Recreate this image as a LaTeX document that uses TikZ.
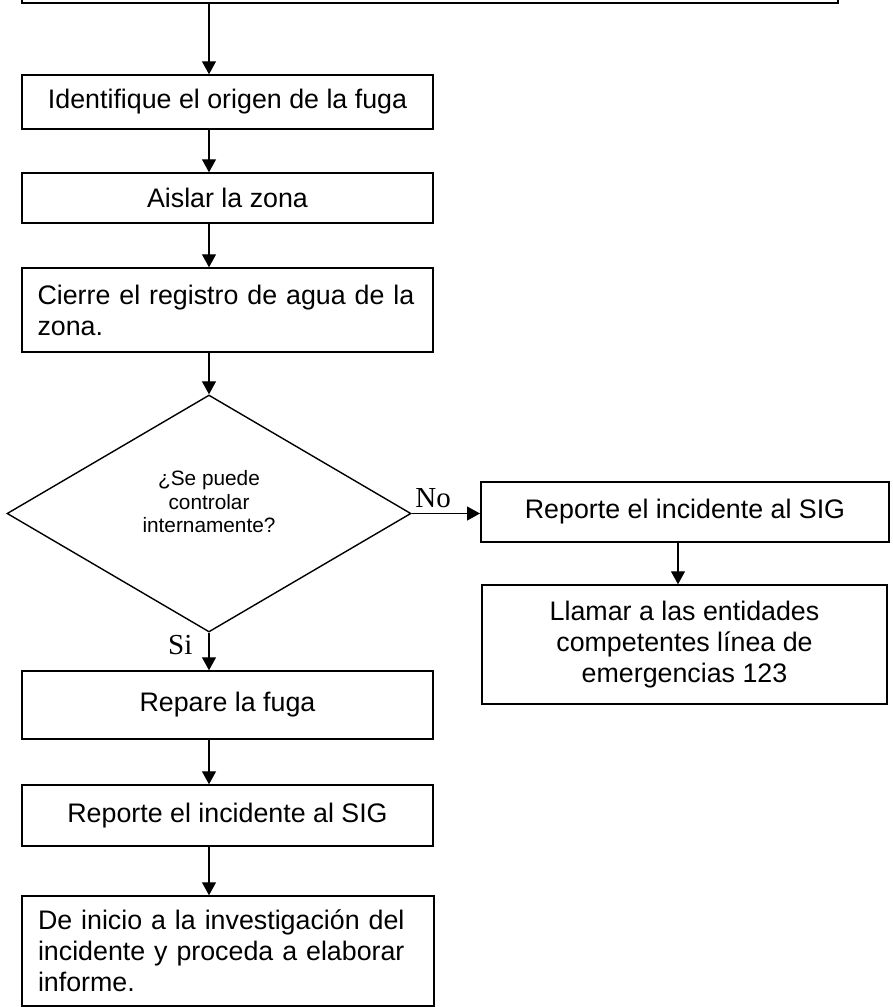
\documentclass[tikz,border=0pt]{standalone}
\usepackage{fontspec}
\setmainfont{Liberation Sans}
\newfontfamily\timesfont{Liberation Serif}
\usetikzlibrary{shapes.geometric,arrows.meta}
\tikzset{%
  block/.style     = {draw, line width=1.5pt, rectangle, inner sep=0pt,
    font=\fontsize{26.8}{31}\selectfont, align=center},
  leftblock/.style = {block, text width=380pt, align=left}, % texto a la izquierda
  decision/.style  = {draw, line width=1.4pt, diamond, inner sep=0pt, text depth=24pt,
    font=\fontsize{20.8}{23.5}\selectfont, align=center}, % Pregunta
  branch/.style    = {font=\timesfont\fontsize{29}{30}\selectfont, inner sep=0pt}, % Si / No
  flecha/.style    = {->, line width=1.3pt}
}
\begin{document}
\begin{tikzpicture}[x=1pt, y=-1pt, >={Triangle[length=13pt,width=14pt]}]
\useasboundingbox (0,0) rectangle (892,1007);
\coordinate (eje) at (209,0);
\coordinate (ejeR) at (678,0);
% columna izquierda
\node[block, line width=2.5pt, minimum width=816pt, minimum height=60pt] (Inicio) at (430,-27) {};
\node[block, minimum width=411pt, minimum height=54pt] (Origen) at (227.5,102) {Identifique el origen de la fuga};
\node[block, minimum width=411pt, minimum height=50pt] (Aislar) at (227.5,198) {Aislar la zona};
\node[leftblock, minimum width=411pt, minimum height=84pt] (Registro) at (227.5,310) {Cierre el registro de agua de la\\zona.};
\node[decision, minimum width=404pt, minimum height=237pt] (Control) at (209,513.5) {¿Se puede\\controlar\\internamente?};
\node[block, minimum width=411pt, minimum height=68pt] (Repare) at (227.5,705) {Repare la fuga};
\node[block, minimum width=411pt, minimum height=61pt] (Reporte2) at (227.5,815.5) {Reporte el incidente al SIG};
\node[leftblock, minimum width=412pt, minimum height=110pt] (Informe) at (228,951) {De inicio a la investigación del\\incidente y proceda a elaborar\\informe.};
% columna derecha
\node[block, line width=2pt, minimum width=408pt, minimum height=60pt] (Reporte1) at (685,512) {Reporte el incidente al SIG};
\node[block, minimum width=405pt, minimum height=119pt] (Llamar) at (684.5,644.5) {Llamar a las entidades\\competentes línea de\\emergencias 123};
% flechas
\draw[flecha] (Inicio.south -| eje) -- (Origen.north -| eje);
\draw[flecha] (Origen.south -| eje) -- (Aislar.north -| eje);
\draw[flecha] (Aislar.south -| eje) -- (Registro.north -| eje);
\draw[flecha] (Registro.south -| eje) -- (Control.north);
\draw[flecha] (Control.east) -- (Control.east -| Reporte1.west)
  node[branch, pos=0, anchor=south west, xshift=3pt, yshift=5pt] (No) {No};
\draw[flecha] (Control.south) -- (Repare.north -| Control.south)
  node[branch, pos=0.33, anchor=east, xshift=-16pt] (Si) {Si};
\draw[flecha] (Repare.south -| eje) -- (Reporte2.north -| eje);
\draw[flecha] (Reporte2.south -| eje) -- (Informe.north -| eje);
\draw[flecha] (Reporte1.south -| ejeR) -- (Llamar.north -| ejeR);
\end{tikzpicture}
\end{document}
